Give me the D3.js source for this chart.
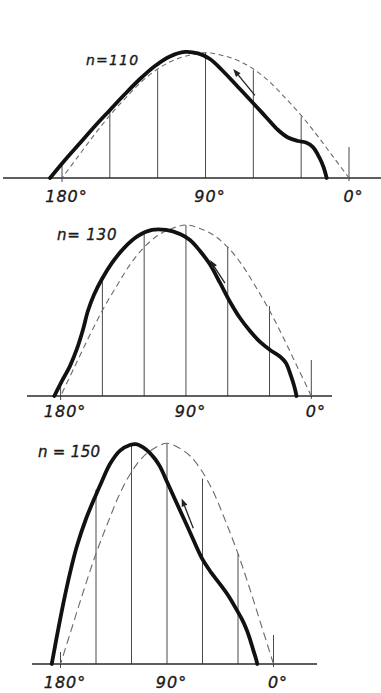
<!DOCTYPE html>
<html>
<head>
<meta charset="utf-8">
<script src="https://cdn.jsdelivr.net/npm/d3@7"></script>
<style>
  html, body { margin: 0; padding: 0; background: #ffffff; }
  svg { display: block; }
  text { font-family: "DejaVu Sans", sans-serif; font-style: oblique; fill: #1a1a1a; stroke: #1a1a1a; stroke-width: 0.35px; }
</style>
</head>
<body>
<script>
// ---------- data ----------
const panelLabels = ["n=110", "n= 130", "n = 150"];
const tickAngles = [180, 90, 0];
const tickLabels = ["180°", "90°", "0°"];
const gridAngles = [150, 120, 90, 60, 30];

// dashed reference curve (relative height vs crank angle)
const refAngles = [0, 10, 20, 30, 40, 50, 60, 70, 80, 90, 100, 110, 120, 130, 140, 150, 160, 170, 180];
const refValues = [0, 0.17, 0.34, 0.5, 0.64, 0.77, 0.87, 0.94, 0.98, 1, 0.98, 0.94, 0.87, 0.77, 0.64, 0.5, 0.34, 0.17, 0];

// solid curves (angle in degrees, relative height)
const n110Angles = [187.5, 178.1, 168.7, 159.3, 149.9, 140.5, 131.1, 121.7, 112.3, 102.9, 94.7, 87.2, 79.7, 69.6, 59.6, 52.1, 44.5, 38.3, 32.0, 27.0, 22.6, 18.8, 16.0, 14.0];
const n110Values = [0, 0.144, 0.279, 0.415, 0.543, 0.670, 0.790, 0.894, 0.970, 1.006, 0.994, 0.950, 0.862, 0.726, 0.591, 0.487, 0.383, 0.323, 0.295, 0.283, 0.247, 0.168, 0.088, 0];

const n130Angles = [184.5, 179.0, 173.3, 168.3, 164.0, 160.4, 156.1, 150.3, 143.1, 134.5, 124.4, 114.4, 104.3, 94.3, 87.1, 79.9, 72.7, 65.5, 58.3, 51.2, 44.0, 36.8, 29.6, 22.5, 18.2, 14.6, 12.1, 10.6];
const n130Values = [0, 0.088, 0.175, 0.275, 0.386, 0.497, 0.591, 0.684, 0.778, 0.865, 0.936, 0.971, 0.971, 0.947, 0.912, 0.848, 0.769, 0.661, 0.550, 0.456, 0.380, 0.316, 0.269, 0.231, 0.193, 0.117, 0.053, 0];

const n150Angles = [187.4, 183.0, 177.6, 172.0, 166.3, 158.5, 150.8, 144.9, 138.2, 129.7, 121.3, 116.2, 107.2, 100.1, 95.9, 89.7, 83.2, 71.8, 60.2, 52.8, 45.2, 38.0, 31.1, 26.6, 22.6, 19.4, 17.1, 15.0, 13.7];
const n150Values = [0, 0.127, 0.275, 0.412, 0.531, 0.657, 0.757, 0.829, 0.906, 0.967, 0.992, 0.996, 0.970, 0.929, 0.894, 0.822, 0.745, 0.612, 0.476, 0.415, 0.362, 0.308, 0.245, 0.202, 0.154, 0.104, 0.063, 0.027, 0];

// height of the thin vertical lines at gridAngles
const n110GridTops = [0.54, 0.86, 1.0, 0.86, 0.49];
const n130GridTops = [0.67, 0.96, 1.0, 0.873, 0.526];
const n150GridTops = [0.79, 0.99, 1.0, 0.84, 0.50];

// direction arrows: [tailAngle, tailValue, tipAngle, tipValue]
const n110Arrow = [59, 0.66, 72.6, 0.87];
const n130Arrow = [62, 0.66, 72.7, 0.795];
const n150Arrow = [67.8, 0.615, 77.6, 0.75];

// ---------- layout ----------
const W = 381, H = 693;
const panels = [
  { label: panelLabels[0], angles: n110Angles, values: n110Values, gridTops: n110GridTops, arrow: n110Arrow,
    x180: 62, x0: 349, base: 178, amp: 125.3, axisL: 3, axisR: 381, zeroTop: 147, labelY: 202,
    titleX: 86, titleY: 65, titleSize: 14, titleSpacing: 1.2, dash: "5,3.5" },
  { label: panelLabels[1], angles: n130Angles, values: n130Values, gridTops: n130GridTops, arrow: n130Arrow,
    x180: 60.6, x0: 311.3, base: 396, amp: 171, axisL: 27, axisR: 332, zeroTop: 360, labelY: 417,
    titleX: 57, titleY: 240, titleSize: 15, titleSpacing: 0.8, dash: "6,4" },
  { label: panelLabels[2], angles: n150Angles, values: n150Values, gridTops: n150GridTops, arrow: n150Arrow,
    x180: 60.5, x0: 273.5, base: 664, amp: 220.7, axisL: 32, axisR: 317, zeroTop: 635, labelY: 688,
    titleX: 38, titleY: 457, titleSize: 15, titleSpacing: 0.3, dash: "8,4.5" }
];

const svg = d3.select("body").append("svg").attr("width", W).attr("height", H);
svg.append("rect").attr("width", W).attr("height", H).attr("fill", "#ffffff");

panels.forEach(p => {
  const x = d3.scaleLinear().domain([180, 0]).range([p.x180, p.x0]);
  const y = d3.scaleLinear().domain([0, 1]).range([p.base, p.base - p.amp]);
  const g = svg.append("g");

  // grid verticals
  g.selectAll("line.grid").data(gridAngles).join("line")
    .attr("class", "grid")
    .attr("x1", d => x(d)).attr("x2", d => x(d))
    .attr("y1", y(0)).attr("y2", (d, i) => y(p.gridTops[i]))
    .attr("stroke", "#4a4a4a").attr("stroke-width", 1);

  // 0° and 180° ticks
  g.append("line")
    .attr("x1", x(0)).attr("x2", x(0))
    .attr("y1", y(0) + 3).attr("y2", p.zeroTop)
    .attr("stroke", "#4a4a4a").attr("stroke-width", 1);
  g.append("line")
    .attr("x1", x(180)).attr("x2", x(180))
    .attr("y1", y(0) + 4).attr("y2", y(0) - 12)
    .attr("stroke", "#4a4a4a").attr("stroke-width", 1);

  // baseline
  g.append("line")
    .attr("x1", p.axisL).attr("x2", p.axisR)
    .attr("y1", y(0)).attr("y2", y(0))
    .attr("stroke", "#2a2a2a").attr("stroke-width", 1.3);

  // dashed reference curve
  const ref = refAngles.map((a, i) => [a, refValues[i]]);
  g.append("path")
    .datum(ref)
    .attr("d", d3.line().x(d => x(d[0])).y(d => y(d[1])).curve(d3.curveCatmullRom.alpha(0.5)))
    .attr("fill", "none").attr("stroke", "#6a6a6a").attr("stroke-width", 1.1)
    .attr("stroke-dasharray", p.dash);

  // solid curve
  const pts = p.angles.map((a, i) => [a, p.values[i]]);
  g.append("path")
    .datum(pts)
    .attr("d", d3.line().x(d => x(d[0])).y(d => y(d[1])).curve(d3.curveCatmullRom.alpha(0.5)))
    .attr("fill", "none").attr("stroke", "#111").attr("stroke-width", 3.8)
    .attr("stroke-linecap", "round").attr("stroke-linejoin", "round");

  // arrow
  const [ta, tv, ha, hv] = p.arrow;
  const x1 = x(ta), y1 = y(tv), x2 = x(ha), y2 = y(hv);
  const ang = Math.atan2(y2 - y1, x2 - x1);
  const hl = 8, hw = 3;
  const bx = x2 - hl * Math.cos(ang), by = y2 - hl * Math.sin(ang);
  g.append("line")
    .attr("x1", x1).attr("y1", y1).attr("x2", bx).attr("y2", by)
    .attr("stroke", "#222").attr("stroke-width", 1.3);
  g.append("path")
    .attr("d", `M${x2},${y2}L${bx + hw * Math.sin(ang)},${by - hw * Math.cos(ang)}L${bx - hw * Math.sin(ang)},${by + hw * Math.cos(ang)}Z`)
    .attr("fill", "#222");

  // tick labels (number centred on its tick, degree sign trailing)
  tickAngles.forEach((a, i) => {
    const t = g.append("text")
      .attr("y", p.labelY)
      .attr("font-size", 16)
      .attr("letter-spacing", 1)
      .text(tickLabels[i]);
    const numLen = tickLabels[i].length - 1;
    const numW = t.node().getSubStringLength(0, numLen);
    t.attr("x", x(a) - numW / 2);
  });

  // panel title
  g.append("text")
    .attr("x", p.titleX).attr("y", p.titleY)
    .attr("font-size", p.titleSize)
    .attr("letter-spacing", p.titleSpacing)
    .text(p.label);
});
</script>
</body>
</html>
